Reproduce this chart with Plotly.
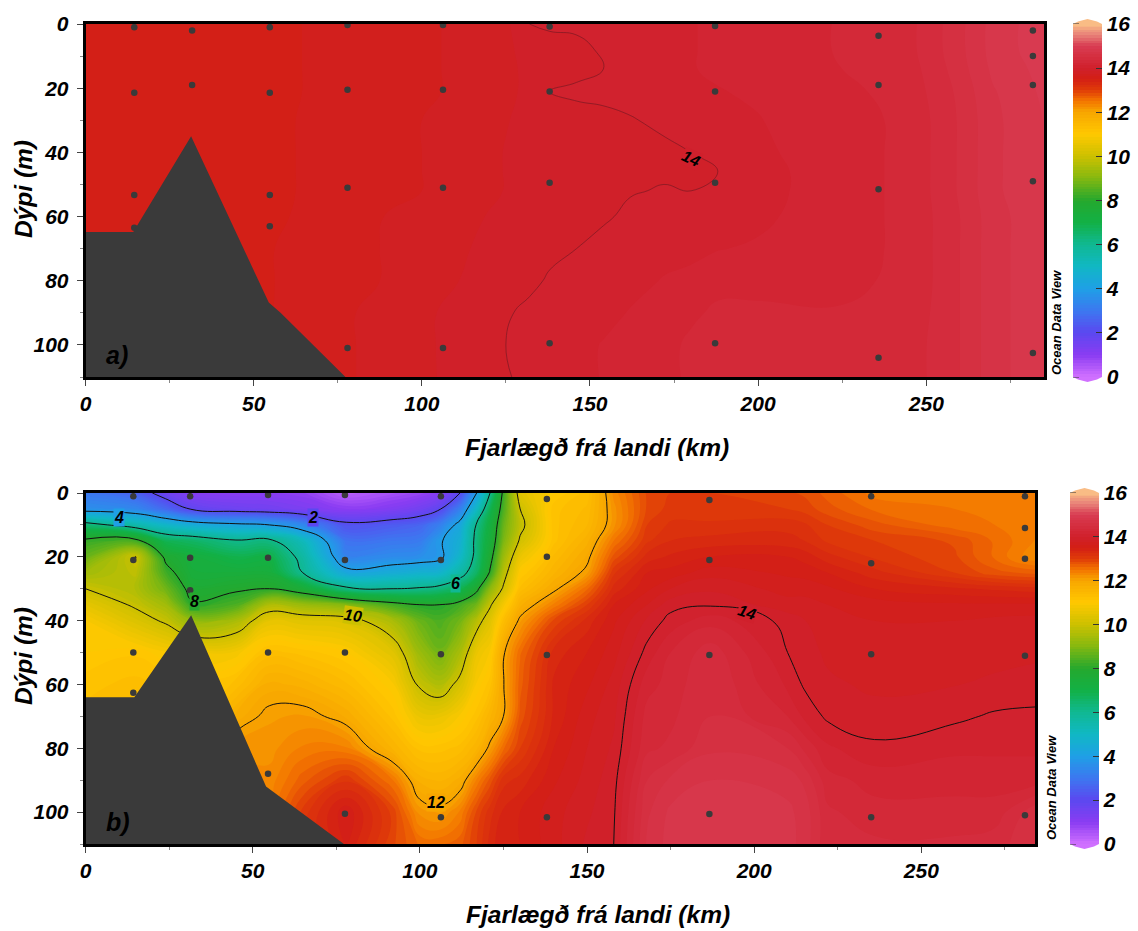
import numpy as np
import plotly.graph_objects as go

W, H = 1138, 931
FONT = "Liberation Sans"

LEVEL_COLORS = [
    (0, "#D070FF"), (1, "#8A3CF2"), (2, "#5B48F0"), (3, "#3C78F0"), (4, "#1F9FE6"),
    (5, "#10B8C4"), (6, "#10B892"), (7, "#12B045"), (8, "#25A82E"), (9, "#84B810"),
    (10, "#CCC000"), (11, "#FFC800"), (12, "#F8A600"), (12.5, "#F37600"), (13, "#E03C08"),
    (13.5, "#D31F14"), (14, "#D0202C"), (15, "#D83C52"), (15.5, "#E88078"), (16, "#F9BC85"),
]
CBAR_TICKS = [0, 2, 4, 6, 8, 10, 12, 14, 16]

# Panel a: temperature by distance (columns) and depth (rows)
A_DIST = [0, 55, 100, 125, 132, 138, 146, 154, 162, 172, 180, 188, 200, 225, 245, 258, 270, 285]
A_DEPTH = [0, 8, 14, 21, 30, 40, 46, 52, 60, 70, 80, 90, 100, 110]
A_COLUMNS = [
    [13.56, 13.56, 13.56, 13.56, 13.56, 13.56, 13.56, 13.56, 13.56, 13.56, 13.56, 13.56, 13.56, 13.56],
    [13.6, 13.6, 13.6, 13.6, 13.6, 13.6, 13.6, 13.6, 13.6, 13.62, 13.62, 13.62, 13.62, 13.62],
    [13.72, 13.72, 13.72, 13.72, 13.75, 13.75, 13.75, 13.75, 13.8, 13.8, 13.8, 13.85, 13.85, 13.85],
    [13.85, 13.85, 13.85, 13.85, 13.87, 13.88, 13.88, 13.88, 13.9, 13.93, 13.97, 13.99, 14.0, 13.99],
    [14.0, 13.92, 13.9, 13.9, 13.9, 13.9, 13.9, 13.9, 13.92, 13.95, 13.98, 14.02, 14.03, 14.03],
    [14.02, 13.95, 13.96, 14.0, 13.95, 13.92, 13.92, 13.92, 13.94, 13.98, 14.01, 14.05, 14.07, 14.07],
    [14.03, 13.96, 13.97, 14.02, 13.96, 13.92, 13.92, 13.92, 13.97, 14.0, 14.04, 14.06, 14.1, 14.1],
    [14.05, 14.02, 14.0, 14.03, 13.97, 13.93, 13.94, 13.95, 13.98, 14.05, 14.08, 14.1, 14.13, 14.13],
    [14.08, 14.08, 14.07, 14.05, 13.99, 13.95, 13.96, 13.99, 14.03, 14.08, 14.1, 14.13, 14.15, 14.15],
    [14.1, 14.1, 14.1, 14.08, 14.03, 13.97, 13.98, 14.01, 14.07, 14.1, 14.13, 14.15, 14.2, 14.2],
    [14.12, 14.12, 14.12, 14.1, 14.05, 14.0, 13.98, 14.0, 14.06, 14.1, 14.15, 14.22, 14.28, 14.28],
    [14.14, 14.14, 14.14, 14.12, 14.08, 14.05, 14.0, 14.03, 14.08, 14.12, 14.2, 14.28, 14.32, 14.32],
    [14.18, 14.18, 14.16, 14.14, 14.12, 14.1, 14.08, 14.08, 14.1, 14.14, 14.2, 14.28, 14.32, 14.32],
    [14.26, 14.26, 14.25, 14.22, 14.2, 14.2, 14.2, 14.2, 14.2, 14.2, 14.22, 14.26, 14.28, 14.28],
    [14.34, 14.34, 14.32, 14.3, 14.28, 14.28, 14.28, 14.28, 14.28, 14.28, 14.28, 14.3, 14.32, 14.32],
    [14.55, 14.55, 14.53, 14.5, 14.48, 14.48, 14.48, 14.48, 14.46, 14.46, 14.46, 14.46, 14.46, 14.46],
    [14.8, 14.8, 14.78, 14.74, 14.72, 14.72, 14.72, 14.72, 14.7, 14.7, 14.7, 14.7, 14.7, 14.7],
    [14.95, 14.95, 14.92, 14.9, 14.88, 14.88, 14.88, 14.88, 14.85, 14.85, 14.85, 14.85, 14.85, 14.85],
]
A_TERRAIN_X = [0, 14.2, 31.4, 54.5, 58, 77.3, 0]
A_TERRAIN_D = [64.8, 64.8, 35, 86.8, 90, 110, 110]
A_ST_X = [14.5] * 4 + [31.7] * 2 + [54.8] * 4 + [77.9] * 4 + [106.3] * 4 + [138] * 4 + [187.2] * 4 + [235.8] * 4 + [281.7] * 5
A_ST_D = [1, 21.4, 53.3, 63.5, 2, 19, 1, 21.4, 53.3, 63, 0.3, 20.5, 51, 101, 0.3, 20.5, 51, 101,
          0.8, 21, 49.5, 99.5, 0.6, 21, 49.5, 99.5, 3.7, 19, 51.5, 104, 2, 10, 19, 49, 102.5]

# Panel b
B_DIST = [0, 15, 24, 32, 45, 55, 65, 78, 92, 100, 106, 112, 117, 121, 125, 130, 140, 150, 158, 168, 175, 187, 210, 215, 222, 236, 260, 272, 285]
B_DEPTH = [0, 5, 10, 15, 20, 25, 30, 35, 40, 50, 60, 70, 80, 90, 100, 110]
B_COLUMNS = [
    [3.0, 3.6, 6.4, 8.2, 8.7, 9.4, 10.0, 10.5, 10.9, 11.0, 11.2, 11.3, 11.5, 11.5, 11.5, 11.5],
    [2.5, 3.4, 5.5, 8.3, 10.02, 9.8, 9.6, 9.9, 10.3, 11.1, 11.3, 11.4, 11.5, 11.5, 11.5, 11.5],
    [1.6, 2.7, 4.9, 6.8, 7.8, 8.3, 8.8, 9.4, 9.9, 10.9, 11.2, 11.3, 11.3, 11.3, 11.3, 11.3],
    [1.1, 1.9, 4.5, 6.6, 7.3, 7.4, 7.7, 8.1, 9.2, 10.8, 11.0, 11.0, 11.0, 11.0, 11.0, 11.0],
    [1.0, 1.6, 4.2, 6.1, 6.9, 7.4, 7.9, 8.4, 9.5, 10.8, 11.3, 11.8, 12.2, 12.3, 12.4, 12.5],
    [1.0, 1.5, 4.0, 6.2, 7.0, 7.4, 8.0, 9.6, 10.5, 11.3, 11.8, 12.1, 12.2, 12.3, 12.4, 12.5],
    [0.9, 1.3, 3.4, 5.2, 5.7, 6.0, 7.5, 9.3, 10.4, 11.2, 11.7, 12.15, 12.4, 12.7, 13.05, 13.1],
    [0.3, 1.0, 2.2, 2.9, 3.3, 4.3, 6.2, 9.0, 10.3, 11.0, 11.4, 11.85, 12.4, 13.1, 13.6, 13.5],
    [0.6, 1.2, 2.4, 3.0, 3.5, 4.5, 6.0, 8.3, 9.5, 10.4, 10.9, 11.2, 11.6, 12.5, 12.95, 12.9],
    [0.8, 1.5, 2.6, 3.1, 3.6, 4.7, 6.1, 8.0, 8.7, 9.3, 9.9, 10.6, 11.2, 11.7, 12.2, 12.6],
    [1.1, 1.95, 3.2, 3.9, 3.8, 4.8, 6.3, 8.0, 8.4, 8.8, 9.6, 10.6, 11.2, 11.6, 12.1, 12.6],
    [2.0, 3.2, 4.3, 4.6, 4.9, 5.6, 6.8, 8.3, 8.8, 9.5, 10.2, 10.9, 11.3, 11.8, 12.4, 12.7],
    [4.0, 5.0, 6.1, 6.3, 6.3, 6.6, 7.8, 8.8, 9.7, 10.6, 10.9, 11.2, 11.6, 12.4, 12.9, 13.0],
    [6.0, 6.8, 7.2, 7.4, 7.7, 8.1, 9.1, 9.9, 10.4, 10.9, 11.2, 11.6, 12.1, 12.8, 13.2, 13.3],
    [8.2, 8.4, 8.7, 8.9, 9.3, 9.7, 10.1, 10.8, 11.3, 11.95, 11.98, 12.0, 12.6, 13.2, 13.4, 13.5],
    [10.4, 10.0, 9.8, 10.1, 10.6, 11.0, 11.3, 11.7, 12.1, 12.6, 12.7, 12.8, 13.0, 13.3, 13.5, 13.5],
    [11.0, 11.2, 11.2, 11.2, 11.4, 11.6, 11.9, 12.4, 12.9, 13.3, 13.4, 13.4, 13.5, 13.6, 13.7, 13.7],
    [11.3, 11.4, 11.5, 11.7, 11.9, 12.1, 12.6, 13.0, 13.3, 13.5, 13.6, 13.7, 13.75, 13.8, 13.85, 13.9],
    [12.3, 12.2, 12.2, 12.5, 12.8, 13.1, 13.3, 13.5, 13.6, 13.7, 13.8, 13.85, 13.9, 13.95, 13.98, 14.0],
    [12.9, 12.9, 13.0, 13.1, 13.3, 13.5, 13.6, 13.75, 13.9, 14.05, 14.2, 14.3, 14.35, 14.5, 14.6, 14.65],
    [13.0, 13.05, 13.15, 13.25, 13.4, 13.55, 13.75, 13.95, 14.05, 14.25, 14.3, 14.35, 14.4, 14.65, 14.78, 14.8],
    [13.0, 13.05, 13.15, 13.3, 13.5, 13.7, 13.85, 13.98, 14.2, 14.45, 14.5, 14.5, 14.6, 14.75, 14.85, 14.85],
    [12.9, 13.0, 13.2, 13.3, 13.5, 13.6, 13.7, 13.8, 13.95, 14.0, 14.1, 14.25, 14.5, 14.7, 14.78, 14.8],
    [12.85, 12.95, 13.15, 13.25, 13.45, 13.58, 13.7, 13.8, 13.88, 13.93, 13.98, 14.1, 14.35, 14.6, 14.7, 14.7],
    [12.7, 12.8, 13.0, 13.1, 13.3, 13.5, 13.65, 13.75, 13.8, 13.85, 13.9, 13.97, 14.15, 14.3, 14.4, 14.4],
    [12.45, 12.6, 12.8, 13.0, 13.1, 13.3, 13.5, 13.7, 13.75, 13.8, 13.85, 13.92, 14.03, 14.2, 14.3, 14.4],
    [12.45, 12.5, 12.55, 12.85, 12.9, 13.0, 13.4, 13.65, 13.75, 13.8, 13.87, 13.97, 14.1, 14.2, 14.3, 14.4],
    [12.45, 12.45, 12.5, 12.6, 12.6, 12.8, 13.35, 13.65, 13.78, 13.83, 13.9, 14.02, 14.1, 14.2, 14.3, 14.45],
    [12.4, 12.4, 12.4, 12.35, 12.25, 12.7, 13.3, 13.65, 13.8, 13.85, 13.93, 14.03, 14.1, 14.2, 14.6, 14.6],
]
B_TERRAIN_X = [0, 14.6, 31.6, 54, 77.3, 0]
B_TERRAIN_D = [64, 64, 38.3, 92, 110, 110]
B_ST_X = [14.3] * 4 + [31.3] * 3 + [54.6] * 4 + [77.6] * 4 + [106.3] * 4 + [138] * 4 + [186.6] * 4 + [235] * 4 + [281] * 5
B_ST_D = [1, 21, 50, 62.6, 1, 20.3, 30.5, 0.6, 20.3, 50, 88, 0.6, 21, 50, 100.5, 1, 21, 50.5, 101.6,
          1.9, 20, 50.8, 101.6, 2.2, 21, 50.8, 100.6, 1, 22, 50.5, 101.6, 1, 11, 20.6, 51, 101]

# label, distance, depth, label background, rotation
B_LABELS = [("2", 68, 7.8, "#5B48F0", 0), ("4", 10, 7.6, "#1F9FE6", 0), ("6", 110.7, 28.3, "#10B892", 0),
            ("8", 32.5, 34, "#25A82E", 0), ("10", 80, 38.4, "#CCC000", 8), ("12", 104.8, 97, "#F8A600", 0),
            ("14", 198, 37.5, "#D0202C", 18)]
A_LABELS = [("14", 180, 42, "#D0202C", 25)]

X_TICKS = [0, 50, 100, 150, 200, 250]
Y_TICKS = [0, 20, 40, 60, 80, 100]
X_TITLE = "Fjarlægð frá landi (km)"
Y_TITLE = "Dýpi (m)"

colorscale = [[v / 16, c] for v, c in LEVEL_COLORS]
fnt = lambda size, color="black": dict(family=FONT, size=size, color=color, weight="bold", style="italic")

fig = go.Figure()
shapes, annotations = [], []


def panel(n, dist, depth, cols, tx, td, sx, sd, labels, px_box, xmax, bar_x, line_color, line_w, line_start, line_end,
          tag, tag_xy, odv_xy, xtitle_xy, ytitle_xy):
    left, right, top, bottom = px_box
    xa, ya = f"x{n if n > 1 else ''}", f"y{n if n > 1 else ''}"
    z = np.array(cols).T
    fig.add_trace(go.Contour(
        x=dist, y=depth, z=z, xaxis=xa, yaxis=ya, colorscale=colorscale, zmin=0, zmax=16, autocontour=False,
        contours=dict(start=0, end=16, size=0.125, coloring="fill", showlines=False),
        line=dict(width=0, smoothing=1.3), hoverinfo="skip",
        colorbar=dict(
            x=bar_x / W, xanchor="left", xpad=0, y=1 - bottom / H, yanchor="bottom", ypad=0,
            lenmode="pixels", len=bottom - top, thickness=29, thicknessmode="pixels", outlinewidth=0,
            tickmode="array", tickvals=CBAR_TICKS, ticktext=[str(v) for v in CBAR_TICKS],
            ticks="inside", ticklen=6, tickcolor="#333", tickwidth=1, tickfont=fnt(21),
        ),
    ))
    fig.add_trace(go.Contour(
        x=dist, y=depth, z=z, xaxis=xa, yaxis=ya, autocontour=False, showscale=False,
        contours=dict(start=line_start, end=line_end, size=2, coloring="none"),
        line=dict(width=line_w, color=line_color, smoothing=1.3), hoverinfo="skip",
    ))
    fig.add_trace(go.Scatter(x=sx, y=sd, xaxis=xa, yaxis=ya, mode="markers", hoverinfo="skip",
                             marker=dict(size=6.5, color="#3A3A3A"), showlegend=False))
    fig.add_trace(go.Scatter(x=tx, y=td, xaxis=xa, yaxis=ya, mode="lines", fill="toself", hoverinfo="skip",
                             fillcolor="#3A3A3A", line=dict(width=0), showlegend=False))
    ax = dict(domain=[left / W, right / W], range=[0, xmax], tickmode="array", tickvals=X_TICKS,
              ticktext=[str(v) for v in X_TICKS], ticks="outside", ticklen=6, tickcolor="#444", tickfont=fnt(21),
              showgrid=False, zeroline=False, showline=True, linecolor="black", linewidth=2.5, mirror=True,
              minor=dict(tickvals=[25, 75, 125, 175, 225, 275], ticks="outside", ticklen=3, tickcolor="#888"),
              anchor=ya, automargin=False)
    ay = dict(domain=[1 - bottom / H, 1 - top / H], range=[110, 0], tickmode="array", tickvals=Y_TICKS,
              ticktext=[str(v) for v in Y_TICKS], ticks="outside", ticklen=6, tickcolor="#444", tickfont=fnt(21),
              showgrid=False, zeroline=False, showline=True, linecolor="black", linewidth=2.5, mirror=True,
              minor=dict(tickvals=[10, 30, 50, 70, 90, 110], ticks="outside", ticklen=3, tickcolor="#888"),
              ticklabelstandoff=4, anchor=xa, automargin=False)
    fig.update_layout({f"xaxis{n if n > 1 else ''}": ax, f"yaxis{n if n > 1 else ''}": ay})

    for text, lx, ld, bg, rot in labels:
        annotations.append(dict(text=text, x=lx, y=ld, xref=xa, yref=ya, showarrow=False, font=fnt(16),
                                bgcolor=bg, borderpad=0, textangle=rot))
    annotations.append(dict(text=tag, x=tag_xy[0], y=tag_xy[1], xref=xa, yref=ya, showarrow=False,
                            font=fnt(25), xanchor="left"))
    annotations.append(dict(text="Ocean Data View", x=odv_xy[0] / W, y=1 - odv_xy[1] / H, xref="paper", yref="paper",
                            showarrow=False, font=fnt(13), textangle=-90, xanchor="center", yanchor="middle"))
    annotations.append(dict(text=X_TITLE, x=xtitle_xy[0] / W, y=1 - xtitle_xy[1] / H, xref="paper", yref="paper",
                            showarrow=False, font=fnt(24.5), xanchor="center", yanchor="middle"))
    annotations.append(dict(text=Y_TITLE, x=ytitle_xy[0] / W, y=1 - ytitle_xy[1] / H, xref="paper", yref="paper",
                            showarrow=False, font=fnt(24.5), textangle=-90, xanchor="center", yanchor="middle"))

    # colour-bar end caps and left-hand tick dashes
    bw = 29
    x0, x1, xm = bar_x / W, (bar_x + bw) / W, (bar_x + bw / 2) / W
    yt, yb = 1 - top / H, 1 - bottom / H
    shapes.append(dict(type="path", xref="paper", yref="paper", line=dict(width=0), fillcolor=LEVEL_COLORS[-1][1],
                       path=f"M {x0},{yt} L {(bar_x + 5) / W},{yt + 2.5 / H} L {xm},{yt + 5 / H} L {(bar_x + bw - 5) / W},{yt + 2.5 / H} L {x1},{yt} Z"))
    shapes.append(dict(type="path", xref="paper", yref="paper", line=dict(width=0), fillcolor=LEVEL_COLORS[0][1],
                       path=f"M {x0},{yb} L {(bar_x + 5) / W},{yb - 2.5 / H} L {xm},{yb - 5 / H} L {(bar_x + bw - 5) / W},{yb - 2.5 / H} L {x1},{yb} Z"))
    for v in CBAR_TICKS:
        yy = yb + (yt - yb) * v / 16
        shapes.append(dict(type="line", xref="paper", yref="paper", x0=x0, x1=(bar_x + 6) / W, y0=yy, y1=yy,
                           line=dict(color="#333", width=1)))


panel(1, A_DIST, A_DEPTH, A_COLUMNS, A_TERRAIN_X, A_TERRAIN_D, A_ST_X, A_ST_D, A_LABELS,
      (85.5, 1044, 24, 377), 285, 1073, "#7A1A24", 0.7, 14, 14, "a)", (5.5, 103), (1057, 323), (597, 447), (24, 189))
panel(2, B_DIST, B_DEPTH, B_COLUMNS, B_TERRAIN_X, B_TERRAIN_D, B_ST_X, B_ST_D, B_LABELS,
      (85.5, 1035, 493, 844), 284, 1070, "#111111", 1, 2, 14, "b)", (5.5, 103), (1051, 788), (598, 914), (23, 656))

fig.update_layout(width=W, height=H, margin=dict(l=0, r=0, t=0, b=0), paper_bgcolor="white", plot_bgcolor="white",
                  showlegend=False, shapes=shapes, annotations=annotations, font=dict(family=FONT))
fig.write_html("out.html", config={"displayModeBar": False},
               post_script="document.body.style.margin='0';")
